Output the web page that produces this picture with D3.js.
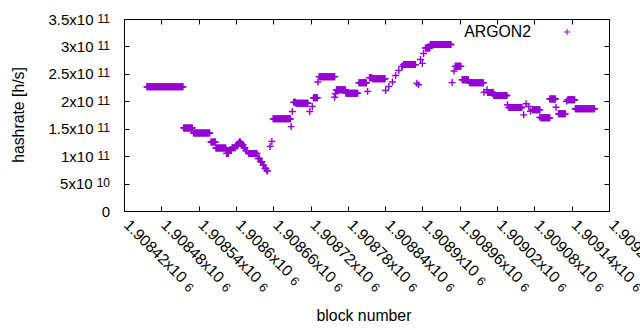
<!DOCTYPE html>
<html><head><meta charset="utf-8">
<script src="https://cdn.jsdelivr.net/npm/d3@7"></script>
<style>body{margin:0;background:#fff}svg{display:block}text{font-family:"Liberation Sans",Arial,sans-serif}</style>
</head><body>
<svg id="c" width="640" height="330"></svg>
<script>
// runs of consecutive blocks that share one hashrate value (start block, end block, value)
const runStart = [1908456,1908515,1908531,1908559,1908567,1908584,1908589,1908593,1908599,1908603,1908605,1908607,1908609,1908612,1908615,1908620,1908635,1908639,1908643,1908646,1908649,1908654,1908657,1908659,1908688,1908690,1908692,1908696,1908718,1908722,1908724,1908731,1908733,1908758,1908759,1908761,1908776,1908797,1908811,1908814,1908819,1908840,1908845,1908851,1908856,1908861,1908866,1908869,1908890,1908893,1908896,1908899,1908901,1908904,1908912,1908947,1908950,1908952,1908963,1908975,1908998,1909003,1909004,1909014,1909036,1909038,1909062,1909066,1909070,1909073,1909076,1909088,1909090,1909104,1909114,1909118,1909131,1909133,1909145];
const runEnd   = [1908514,1908529,1908557,1908566,1908583,1908587,1908592,1908598,1908602,1908604,1908606,1908608,1908611,1908614,1908617,1908633,1908637,1908641,1908644,1908647,1908650,1908654,1908657,1908687,1908688,1908690,1908695,1908715,1908718,1908722,1908730,1908731,1908758,1908758,1908759,1908775,1908795,1908809,1908811,1908818,1908839,1908840,1908845,1908851,1908856,1908861,1908867,1908888,1908890,1908893,1908896,1908899,1908901,1908911,1908945,1908947,1908950,1908961,1908973,1908997,1908998,1909003,1909013,1909035,1909036,1909059,1909062,1909066,1909070,1909073,1909088,1909088,1909104,1909113,1909114,1909129,1909131,1909144,1909176];
const runValue = [2.275e11,1.524e11,1.432e11,1.267e11,1.157e11,1.06e11,1.12e11,1.16e11,1.20e11,1.24e11,1.27e11,1.24e11,1.21e11,1.16e11,1.11e11,1.058e11,0.967e11,0.907e11,0.846e11,0.784e11,0.742e11,1.187e11,1.278e11,1.689e11,1.548e11,1.822e11,1.99e11,1.974e11,1.822e11,1.914e11,2.073e11,2.36e11,2.458e11,2.084e11,2.146e11,2.22e11,2.157e11,2.348e11,2.19e11,2.44e11,2.42e11,2.207e11,2.28e11,2.36e11,2.48e11,2.57e11,2.646e11,2.678e11,2.34e11,2.31e11,2.77e11,2.70e11,2.88e11,2.98e11,3.044e11,2.35e11,2.56e11,2.646e11,2.403e11,2.348e11,2.176e11,2.22e11,2.17e11,2.115e11,1.945e11,1.896e11,1.762e11,1.963e11,1.914e11,1.828e11,1.853e11,1.718e11,1.707e11,2.05e11,1.90e11,1.78e11,2.01e11,2.036e11,1.872e11];

const xTicks = [1908420,1908480,1908540,1908600,1908660,1908720,1908780,1908840,1908900,1908960,1909020,1909080,1909140,1909200];
const xTickBase = ["1.90842x10","1.90848x10","1.90854x10","1.9086x10","1.90866x10","1.90872x10","1.90878x10","1.90884x10","1.9089x10","1.90896x10","1.90902x10","1.90908x10","1.90914x10","1.9092x10"];
const xTickExp = ["6","6","6","6","6","6","6","6","6","6","6","6","6","6"];
const yTicks = [0,5e10,1e11,1.5e11,2e11,2.5e11,3e11,3.5e11];
const yTickBase = ["0","5x10","1x10","1.5x10","2x10","2.5x10","3x10","3.5x10"];
const yTickExp = ["","10","11","11","11","11","11","11"];
const seriesName = "ARGON2";

const L=124.5, R=609.5, T=19.5, B=211.5;
const color="#9400d3";
const svg=d3.select("#c");
const x=d3.scaleLinear().domain([1908420,1909200]).range([L,R]);
const y=d3.scaleLinear().domain([0,3.5e11]).range([B,T]);

// expand runs to one point per block
const pts=[];
runStart.forEach((s,i)=>{ for(let b=s;b<=runEnd[i];b++) pts.push([b,runValue[i]]); });

// ticks (mirrored, inward)
const tk=5;
const g=svg.append("g").attr("stroke","#000").attr("stroke-width",1).attr("fill","none");
yTicks.forEach(v=>{const yy=Math.round(y(v)-0.5)+0.5;
  if(v>0&&v<3.5e11){g.append("line").attr("x1",L).attr("x2",L+tk).attr("y1",yy).attr("y2",yy);
  g.append("line").attr("x1",R).attr("x2",R-tk).attr("y1",yy).attr("y2",yy);}});
xTicks.forEach((v,i)=>{const xx=Math.round(x(v)-0.5)+0.5;
  if(i>0&&i<xTicks.length-1){g.append("line").attr("x1",xx).attr("x2",xx).attr("y1",B).attr("y2",B-tk);
  g.append("line").attr("x1",xx).attr("x2",xx).attr("y1",T).attr("y2",T+tk);}});
g.append("rect").attr("x",L).attr("y",T).attr("width",R-L).attr("height",B-T);

const fs=15;
// y tick labels
yTicks.forEach((v,i)=>{
  const t=svg.append("text").attr("x",110).attr("y",y(v)+5).attr("text-anchor","end").attr("font-size",fs).attr("fill","#000");
  t.append("tspan").text(yTickBase[i]);
  if(yTickExp[i]) t.append("tspan").attr("dx",4).attr("dy",-2).attr("font-size",fs*0.8).text(yTickExp[i]);
});
// x tick labels rotated
xTicks.forEach((v,i)=>{
  const xx=x(v)-1.5, yy=226;
  const t=svg.append("text").attr("transform",`translate(${xx},${yy}) rotate(45)`).attr("font-size",15.6).attr("fill","#000");
  t.append("tspan").attr("fill","#000").text(xTickBase[i]);
  t.append("tspan").attr("fill","#000").attr("dx",5).attr("dy",1).attr("font-size",12.5).text(xTickExp[i]);
});
// axis titles
svg.append("text").attr("x",364).attr("y",321).attr("text-anchor","middle").attr("font-size",15.8).text("block number");
svg.append("text").attr("transform","translate(24,115) rotate(-90)").attr("text-anchor","middle").attr("font-size",15.8).text("hashrate [h/s]");

// points
const plus="M-3.5,0H3.5M0,-3.5V3.5";
svg.append("g").selectAll("path").data(pts).join("path")
  .attr("transform",d=>`translate(${x(d[0])},${y(d[1])})`)
  .attr("d",plus).attr("stroke",color).attr("stroke-width",1.4).attr("fill","none");

// legend
svg.append("text").attr("x",531).attr("y",37).attr("text-anchor","end").attr("font-size",15.8).text(seriesName);
svg.append("path").attr("transform","translate(567,32)").attr("d","M-3,0H3M0,-3V3").attr("stroke",color).attr("stroke-width",1).attr("fill","none");
</script>
</body></html>
